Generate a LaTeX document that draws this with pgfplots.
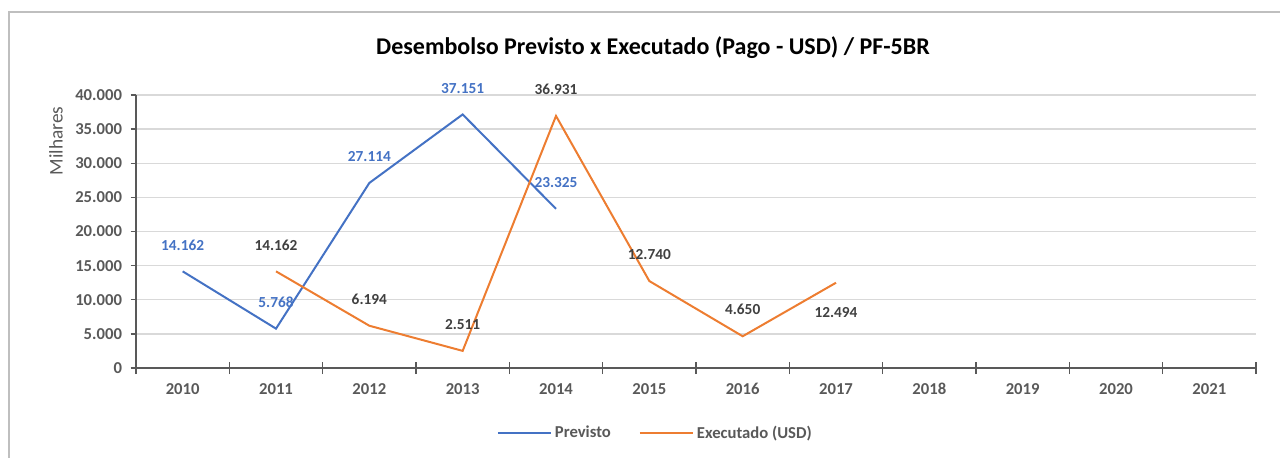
\documentclass[border=0pt]{standalone}
\usepackage{pgfplots}
\pgfplotsset{compat=1.18}
\usepackage{fontspec}
\setmainfont{Carlito}
\definecolor{cblue}{HTML}{4472C4}
\definecolor{corange}{HTML}{ED7D31}
\definecolor{lblgray}{HTML}{404040}
\definecolor{tickgray}{HTML}{595959}
\definecolor{gridgray}{HTML}{D9D9D9}
\definecolor{framegray}{HTML}{BFBFBF}
\begin{document}
\begin{tikzpicture}
\useasboundingbox (0,0) rectangle (960pt,-342.75pt);
\draw[framegray, line width=1pt] (6.75pt,-345pt) -- (6.75pt,-9pt) -- (965pt,-9pt);
\node[font=\bfseries\fontsize{18}{21}\selectfont, text=black] at (489.75pt,-36pt) {Desembolso Previsto x Executado (Pago - USD) / PF-5BR};
\node[font=\fontsize{14.5}{17}\selectfont, text=tickgray, rotate=90] at (42pt,-105.75pt) {Milhares};
\begin{axis}[
  at={(102pt,-276pt)}, anchor=south west,
  scale only axis, width=840pt, height=204.75pt,
  xmin=-0.5, xmax=11.5, ymin=0, ymax=40000,
  xtick={0,...,11},
  xticklabels={2010,2011,2012,2013,2014,2015,2016,2017,2018,2019,2020,2021},
  major x tick style={draw=none},
  minor xtick={-0.5,0.5,...,11.5},
  minor tick length=9pt,
  ytick={0,5000,...,40000},
  tick align=outside,
  major tick length=4pt,
  minor x tick style={/pgfplots/tick align=center},
  ymajorgrids, major grid style={gridgray, line width=1pt},
  axis x line*=bottom, axis y line*=left,
  axis line style={tickgray, line width=1pt},
  tick style={tickgray, line width=1pt},
  scaled y ticks=false,
  /pgf/number format/.cd, 1000 sep={.}, assume math mode=true, /pgfplots/.cd,
  ticklabel style={font=\bfseries\fontsize{12.5}{15}\selectfont, text=tickgray},
  xticklabel style={yshift=-3.5pt, text height=9pt, text depth=1pt},
  yticklabel style={xshift=-3pt},
  legend style={at={(0.464,0)}, anchor=center, yshift=-48.75pt, draw=none,
    font=\bfseries\fontsize{12.5}{15}\selectfont, text=tickgray, legend columns=2,
    /tikz/every even column/.append style={column sep=19pt}},
  legend image code/.code={\draw[#1,mark=none] (0pt,0pt) -- (40pt,0pt);},
  clip=false,
]
\addplot[cblue, line width=1.5pt, mark=none] coordinates {(0,14162) (1,5768) (2,27114) (3,37151) (4,23325)};
\addlegendentry{Previsto}
\addplot[corange, line width=1.5pt, mark=none] coordinates {(1,14162) (2,6194) (3,2511) (4,36931) (5,12740) (6,4650) (7,12494)};
\addlegendentry{Executado (USD)}
% labels
\addplot[draw=none, mark=none, forget plot, nodes near coords,
  every node near coord/.append style={anchor=base, yshift=16pt, inner sep=0pt, text=cblue, font=\bfseries\fontsize{11.5}{14}\selectfont}]
  coordinates {(0,14162) (1,5768) (2,27114) (3,37151) (4,23325)};
\addplot[draw=none, mark=none, forget plot, nodes near coords,
  every node near coord/.append style={anchor=base, yshift=16pt, inner sep=0pt, text=lblgray, font=\bfseries\fontsize{11.5}{14}\selectfont}]
  coordinates {(1,14162) (2,6194) (3,2511) (4,36931) (5,12740) (6,4650)};
\addplot[draw=none, mark=none, forget plot, nodes near coords,
  every node near coord/.append style={anchor=base, yshift=-26pt, inner sep=0pt, text=lblgray, font=\bfseries\fontsize{11.5}{14}\selectfont}]
  coordinates {(7,12494)};
\end{axis}
\end{tikzpicture}
\end{document}
